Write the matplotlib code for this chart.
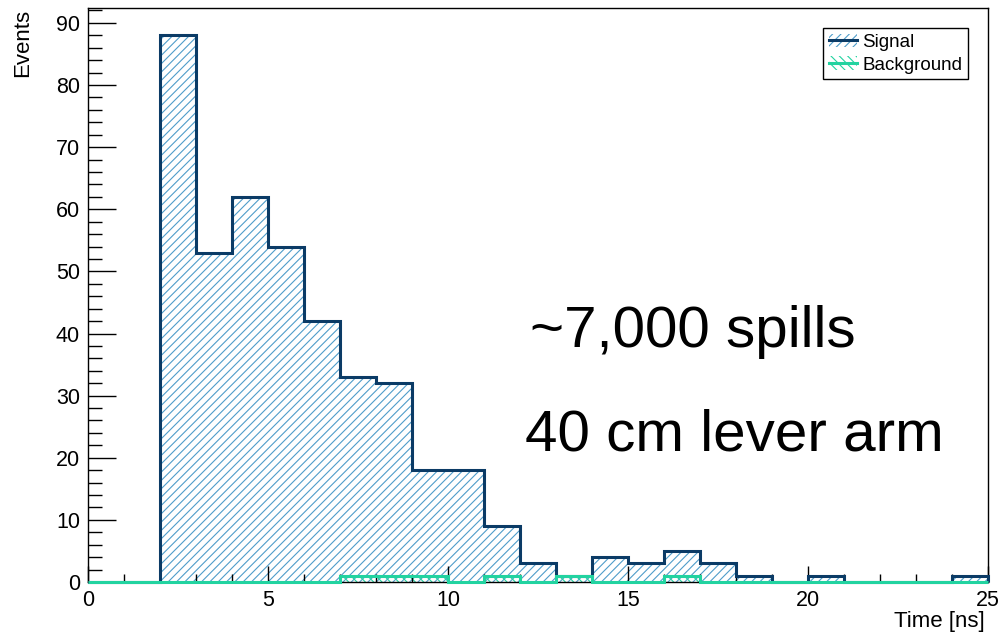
import numpy as np
from matplotlib import pyplot as plt
from matplotlib.lines import Line2D
from matplotlib.patches import Patch
from matplotlib.ticker import MultipleLocator

plt.rcParams['font.family'] = ['Liberation Sans', 'DejaVu Sans']
plt.rcParams['hatch.linewidth'] = 0.8

#histogram binning (1 ns bins from 0 to 25 ns)
binEdges = np.arange(0, 26, 1)
signalCounts = [0, 0, 88, 53, 62, 54, 42, 33, 32, 18, 18, 9, 3, 1, 4, 3, 5, 3, 1, 0, 1, 0, 0, 0, 1]
backgroundCounts = [0, 0, 0, 0, 0, 0, 0, 1, 1, 1, 0, 1, 0, 1, 0, 0, 1, 0, 0, 0, 0, 0, 0, 0, 0]

signalLine = '#0b3b66'
signalHatch = '#4f9dca'
backgroundLine = '#22d3a0'

annotations = ['~7,000 spills', '40 cm lever arm']

fig = plt.figure(figsize=(10.01, 6.33), dpi=100)
ax = fig.add_axes([88/1001, 1 - 582/633, 900/1001, 574/633])

#hatched fills (edgecolor only sets the hatch colour)
ax.stairs(signalCounts, binEdges, fill=True, facecolor='none', edgecolor=signalHatch,
          hatch='////', linewidth=0, zorder=1)
ax.stairs(backgroundCounts, binEdges, fill=True, facecolor='none', edgecolor=backgroundLine,
          hatch='\\\\\\\\', linewidth=0, zorder=1.1)

#step outlines
ax.stairs(signalCounts, binEdges, fill=False, color=signalLine, linewidth=2.2, zorder=3, clip_on=False)
ax.stairs(backgroundCounts, binEdges, fill=False, color=backgroundLine, linewidth=2.2, zorder=3.1, clip_on=False)

ax.set_xlim(0, 25)
ax.set_ylim(0, max(signalCounts) * 1.05)

#ROOT-like frame and ticks
for spine in ax.spines.values():
    spine.set_linewidth(1.0)
    spine.set_color('black')
ax.xaxis.set_major_locator(MultipleLocator(5))
ax.xaxis.set_minor_locator(MultipleLocator(1))
ax.yaxis.set_major_locator(MultipleLocator(10))
ax.yaxis.set_minor_locator(MultipleLocator(2))
ax.tick_params(which='both', direction='in', top=False, right=False, width=1.0,
               labelsize=15.5, pad=5.8)
ax.tick_params(axis='x', which='major', length=11.5)
ax.tick_params(axis='x', which='minor', length=5.8)
ax.tick_params(axis='y', which='major', length=20)
ax.tick_params(axis='y', which='minor', length=10)

fig.text(985/1001, 1 - 627/633, 'Time [ns]', ha='right', va='baseline', fontsize=16)
fig.text(33/1001, 1 - 9/633, 'Events', ha='right', va='top', rotation=90, fontsize=16)

ax.text(12.28, 37.8, annotations[0], fontsize=42, va='baseline', ha='left')
ax.text(12.14, 21.2, annotations[1], fontsize=42, va='baseline', ha='left')

handles = [
    (Patch(facecolor='none', edgecolor=signalHatch, hatch='////', linewidth=0),
     Line2D([], [], color=signalLine, linewidth=2.2)),
    (Patch(facecolor='none', edgecolor=backgroundLine, hatch='\\\\\\\\', linewidth=0),
     Line2D([], [], color=backgroundLine, linewidth=2.2)),
]
leg = ax.legend(handles, ['Signal', 'Background'], loc='upper right',
                bbox_to_anchor=(968/1001, 1 - 28/633), bbox_transform=fig.transFigure,
                borderaxespad=0, fontsize=13.5, frameon=True, fancybox=False,
                edgecolor='black', framealpha=1, handlelength=1.5, handletextpad=0.3,
                borderpad=0.3, labelspacing=0.3)
leg.get_frame().set_linewidth(1.0)

plt.savefig('out.png', dpi=100)
